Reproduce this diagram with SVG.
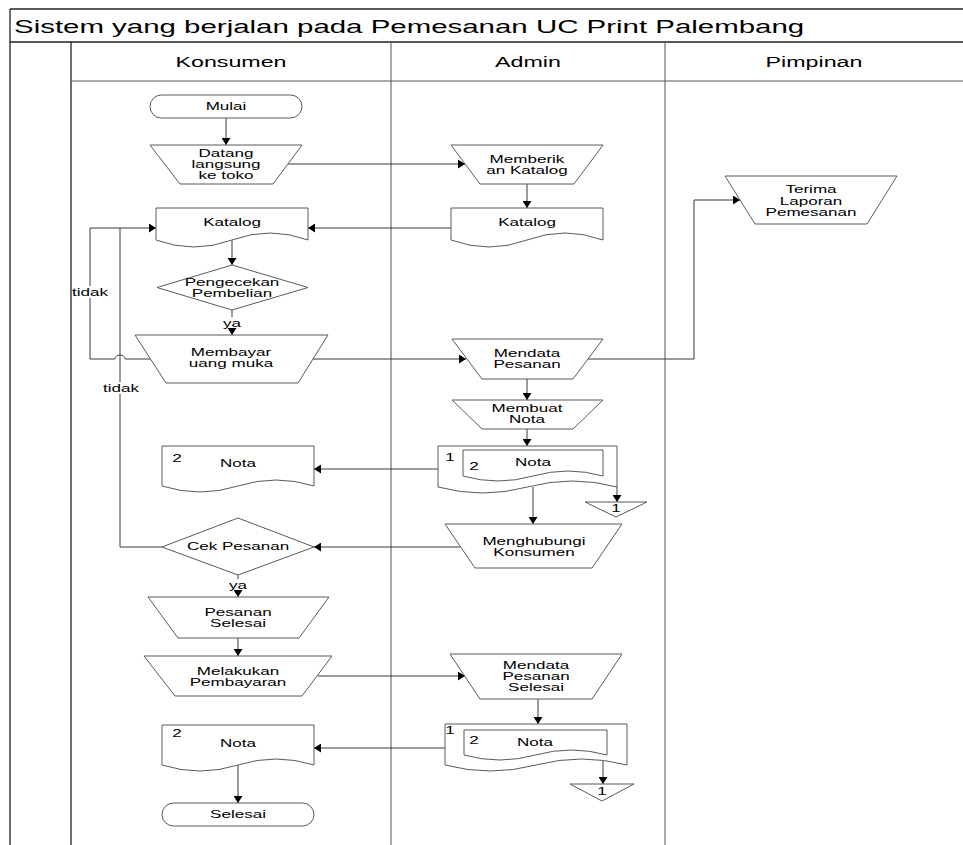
<svg xmlns="http://www.w3.org/2000/svg" width="963" height="845" viewBox="0 0 963 845">
<style>
.frame{stroke:#222;stroke-width:1.3;fill:none}
.lane{stroke:#555;stroke-width:1;fill:none}
.s{fill:#fff;stroke:#5a5a5a;stroke-width:1}
.c{fill:none;stroke:#3a3a3a;stroke-width:1}
.ca{fill:none;stroke:#3a3a3a;stroke-width:1;marker-end:url(#ah)}
.t{font-family:"Liberation Sans",Arial,sans-serif;font-size:11px;text-anchor:middle;fill:#000}
.tl{font-family:"Liberation Sans",Arial,sans-serif;font-size:11px;text-anchor:start;fill:#000}
.h{font-family:"Liberation Sans",Arial,sans-serif;font-size:15px;text-anchor:middle;fill:#000}
.ttl{font-family:"Liberation Sans",Arial,sans-serif;font-size:19px;text-anchor:start;fill:#000}
.bg{fill:#fff;stroke:none}
</style>
<defs>
<marker id="ah" viewBox="0 0 7 9" refX="7" refY="4.5" markerWidth="7" markerHeight="9" markerUnits="userSpaceOnUse" orient="auto">
<path d="M0,0 L7,4.5 L0,9 Z" fill="#000"/>
</marker>
</defs>
<rect x="0" y="0" width="963" height="845" fill="#fff"/>
<g id="frame">
<line class="frame" x1="10" y1="9" x2="963" y2="9"/>
<line class="frame" x1="10" y1="42" x2="963" y2="42"/>
<line class="frame" x1="10" y1="9" x2="10" y2="845"/>
<line class="frame" x1="71" y1="42" x2="71" y2="845"/>
<line class="lane" x1="391" y1="42" x2="391" y2="845"/>
<line class="lane" x1="665" y1="42" x2="665" y2="845"/>
<line class="lane" x1="71" y1="81" x2="963" y2="81"/>
<text class="ttl" transform="translate(14,33) scale(1.55,1)">Sistem yang berjalan pada Pemesanan UC Print Palembang</text>
<text class="h" transform="translate(231,67) scale(1.55,1)">Konsumen</text>
<text class="h" transform="translate(528,67) scale(1.55,1)">Admin</text>
<text class="h" transform="translate(814,67) scale(1.55,1)">Pimpinan</text>
</g>
<g id="connectors">
<line class="ca" x1="226" y1="118" x2="226" y2="145"/>
<line class="ca" x1="288" y1="164" x2="465" y2="164"/>
<line class="ca" x1="527" y1="184" x2="527" y2="208"/>
<line class="ca" x1="451" y1="228" x2="308" y2="228"/>
<line class="ca" x1="232" y1="240" x2="232" y2="265"/>
<line class="ca" x1="232" y1="310" x2="232" y2="335"/>
<line class="ca" x1="313" y1="359" x2="466" y2="359"/>
<path class="ca" d="M588,359 H694 V200 H740"/>
<line class="ca" x1="527" y1="379" x2="527" y2="400"/>
<line class="ca" x1="527" y1="429" x2="527" y2="446"/>
<line class="ca" x1="438" y1="469" x2="314" y2="469"/>
<line class="ca" x1="617" y1="487" x2="617" y2="502"/>
<line class="ca" x1="533" y1="487" x2="533" y2="524"/>
<line class="ca" x1="460" y1="547" x2="314" y2="547"/>
<path class="ca" d="M162,547 H120 V228 H156"/>
<path class="c" d="M150,359 H125 A5,4 0 0 0 115,359 H90 V228 H120"/>
<line class="ca" x1="238" y1="575" x2="238" y2="597"/>
<line class="ca" x1="238" y1="638" x2="238" y2="656"/>
<line class="ca" x1="318" y1="676" x2="465" y2="676"/>
<line class="ca" x1="538" y1="699" x2="538" y2="724"/>
<line class="ca" x1="445" y1="748" x2="314" y2="748"/>
<line class="ca" x1="603" y1="761" x2="603" y2="784"/>
<line class="ca" x1="238" y1="765" x2="238" y2="803"/>
<rect class="bg" x="73" y="286" width="34" height="12"/>
<text class="tl" transform="translate(72,296) scale(1.55,1)">tidak</text>
<rect class="bg" x="103" y="382" width="34" height="12"/>
<text class="tl" transform="translate(103,392) scale(1.55,1)">tidak</text>
<rect class="bg" x="223" y="317" width="18" height="11"/>
<text class="t" transform="translate(232,327) scale(1.55,1)">ya</text>
<rect class="bg" x="229" y="579" width="18" height="11"/>
<text class="t" transform="translate(238,589) scale(1.55,1)">ya</text>
</g>
<g id="mulai">
<rect class="s" x="150" y="95" width="152" height="23" rx="11.5"/>
<text class="t" transform="translate(226,110) scale(1.55,1)">Mulai</text>
</g>
<g id="datang">
<polygon class="s" points="150,145 302,145 273,184 180,184"/>
<text class="t" transform="translate(226,157) scale(1.55,1)">Datang</text>
<text class="t" transform="translate(226,168) scale(1.55,1)">langsung</text>
<text class="t" transform="translate(226,179) scale(1.55,1)">ke toko</text>
</g>
<g id="memberikan">
<polygon class="s" points="451,145 603,145 574,184 480,184"/>
<text class="t" transform="translate(527,163) scale(1.55,1)">Memberik</text>
<text class="t" transform="translate(527,174) scale(1.55,1)">an Katalog</text>
</g>
<g id="katalog-admin">
<path class="s" d="M451,208 H603 V240 Q565,226 527,240 T451,240 Z"/>
<text class="t" transform="translate(527,226) scale(1.55,1)">Katalog</text>
</g>
<g id="katalog-konsumen">
<path class="s" d="M156,208 H308 V240 Q270,226 232,240 T156,240 Z"/>
<text class="t" transform="translate(232,226) scale(1.55,1)">Katalog</text>
</g>
<g id="terima">
<polygon class="s" points="725,176 897,176 867,224 755,224"/>
<text class="t" transform="translate(811,193) scale(1.55,1)">Terima</text>
<text class="t" transform="translate(811,205) scale(1.55,1)">Laporan</text>
<text class="t" transform="translate(811,216) scale(1.55,1)">Pemesanan</text>
</g>
<g id="pengecekan">
<polygon class="s" points="232,265 308,287.5 232,310 157,287.5"/>
<text class="t" transform="translate(232,286) scale(1.55,1)">Pengecekan</text>
<text class="t" transform="translate(232,297) scale(1.55,1)">Pembelian</text>
</g>
<g id="membayar">
<polygon class="s" points="135,335 328,335 298,383 166,383"/>
<text class="t" transform="translate(231,356) scale(1.55,1)">Membayar</text>
<text class="t" transform="translate(231,367) scale(1.55,1)">uang muka</text>
</g>
<g id="mendata-pesanan">
<polygon class="s" points="452,339 603,339 573,379 482,379"/>
<text class="t" transform="translate(527,357) scale(1.55,1)">Mendata</text>
<text class="t" transform="translate(527,368) scale(1.55,1)">Pesanan</text>
</g>
<g id="membuat-nota">
<polygon class="s" points="452,400 603,400 573,429 482,429"/>
<text class="t" transform="translate(527,412) scale(1.55,1)">Membuat</text>
<text class="t" transform="translate(527,423) scale(1.55,1)">Nota</text>
</g>
<g id="nota-admin-1">
<path class="s" d="M438,446 H617 V487 Q572.25,475 527.5,487 T438,487 Z"/>
<path class="s" d="M463,450 H603 V476 Q568,466 533,476 T463,476 Z"/>
<text class="t" transform="translate(450,461) scale(1.55,1)">1</text>
<text class="t" transform="translate(474,470) scale(1.55,1)">2</text>
<text class="t" transform="translate(533,466) scale(1.55,1)">Nota</text>
</g>
<g id="offpage-1a">
<polygon class="s" points="585,502 647,502 616,517"/>
<text class="t" transform="translate(616,512) scale(1.55,1)">1</text>
</g>
<g id="nota-konsumen-1">
<path class="s" d="M162,446 H314 V486 Q276,474 238,486 T162,486 Z"/>
<text class="t" transform="translate(177,462) scale(1.55,1)">2</text>
<text class="t" transform="translate(238,467) scale(1.55,1)">Nota</text>
</g>
<g id="menghubungi">
<polygon class="s" points="445,524 622,524 592,568 475,568"/>
<text class="t" transform="translate(534,545) scale(1.55,1)">Menghubungi</text>
<text class="t" transform="translate(534,556) scale(1.55,1)">Konsumen</text>
</g>
<g id="cek-pesanan">
<polygon class="s" points="238,518 314,547 238,575 162,547"/>
<text class="t" transform="translate(238,550) scale(1.55,1)">Cek Pesanan</text>
</g>
<g id="pesanan-selesai">
<polygon class="s" points="148,597 329,597 299,638 178,638"/>
<text class="t" transform="translate(238,616) scale(1.55,1)">Pesanan</text>
<text class="t" transform="translate(238,627) scale(1.55,1)">Selesai</text>
</g>
<g id="melakukan">
<polygon class="s" points="144,656 332,656 302,696 175,696"/>
<text class="t" transform="translate(238,675) scale(1.55,1)">Melakukan</text>
<text class="t" transform="translate(238,686) scale(1.55,1)">Pembayaran</text>
</g>
<g id="mendata-selesai">
<polygon class="s" points="450,654 622,654 592,699 480,699"/>
<text class="t" transform="translate(536,669) scale(1.55,1)">Mendata</text>
<text class="t" transform="translate(536,680) scale(1.55,1)">Pesanan</text>
<text class="t" transform="translate(536,691) scale(1.55,1)">Selesai</text>
</g>
<g id="nota-admin-2">
<path class="s" d="M445,724 H627 V765 Q581.5,753 536,765 T445,765 Z"/>
<path class="s" d="M464,730 H607 V755 Q571.25,745 535.5,755 T464,755 Z"/>
<text class="t" transform="translate(450,734) scale(1.55,1)">1</text>
<text class="t" transform="translate(474,744) scale(1.55,1)">2</text>
<text class="t" transform="translate(535,746) scale(1.55,1)">Nota</text>
</g>
<g id="offpage-1b">
<polygon class="s" points="570,784 634,784 602,801"/>
<text class="t" transform="translate(602,795) scale(1.55,1)">1</text>
</g>
<g id="nota-konsumen-2">
<path class="s" d="M162,725 H314 V765 Q276,753 238,765 T162,765 Z"/>
<text class="t" transform="translate(177,737) scale(1.55,1)">2</text>
<text class="t" transform="translate(238,747) scale(1.55,1)">Nota</text>
</g>
<g id="selesai">
<rect class="s" x="162" y="803" width="152" height="23" rx="11.5"/>
<text class="t" transform="translate(238,818) scale(1.55,1)">Selesai</text>
</g>
</svg>
